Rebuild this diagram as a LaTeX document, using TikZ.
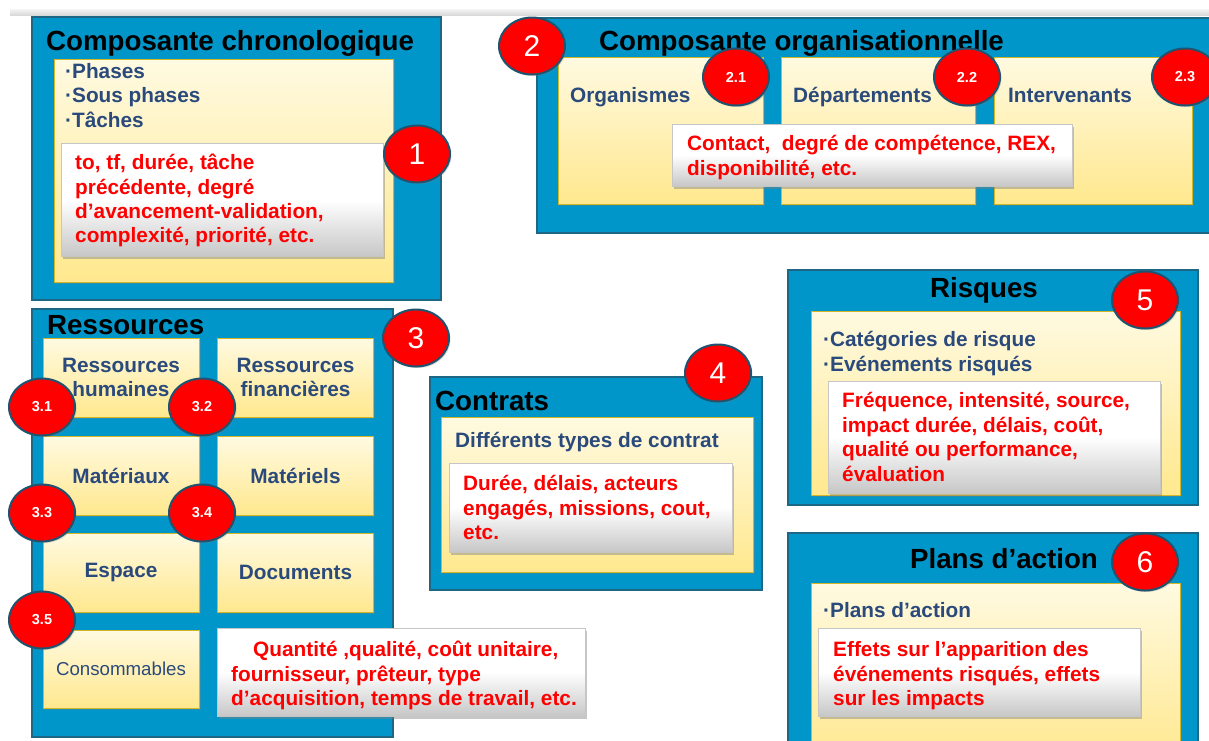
\documentclass[tikz,border=0pt]{standalone}
\usepackage{fontspec}
\setmainfont{Liberation Sans}
\usepackage{tikz}
\usetikzlibrary{shapes.geometric,shadows,positioning}

\definecolor{bluebox}{HTML}{0096C9}
\definecolor{blueline}{HTML}{1D6784}
\definecolor{celltop}{HTML}{FFFAE1}
\definecolor{cellbot}{HTML}{FFE88E}
\definecolor{cellline}{HTML}{D2B628}
\definecolor{navy}{HTML}{2B4A7C}
\definecolor{ringline}{HTML}{1E5470}

\begin{document}
\begin{tikzpicture}[x=1pt, y=-1pt,
  blk/.style={draw=blueline, line width=1.2pt, fill=bluebox, inner sep=0pt},
  cell/.style={draw=cellline, line width=.8pt, top color=celltop, bottom color=cellbot, inner sep=0pt,
    drop shadow={opacity=.3, shadow xshift=1.5pt, shadow yshift=-1.5pt}},
  note/.style={draw=gray!45, line width=.5pt, top color=white, bottom color=black!22, middle color=white, inner sep=0pt,
    drop shadow={opacity=.45, shadow xshift=2pt, shadow yshift=-2.5pt}},
  num/.style={ellipse, draw=ringline, line width=2pt, fill=red, text=white, minimum width=66, minimum height=57,
    inner sep=0pt, font=\fontsize{30}{30}\selectfont, drop shadow={opacity=.3, shadow xshift=1.5pt, shadow yshift=-1.5pt}},
  sub/.style={num, font=\fontsize{14.5}{14.5}\selectfont\bfseries},
  ttl/.style={inner sep=0pt, font=\fontsize{27.7}{30}\selectfont\bfseries},
  lbl/.style={inner sep=0pt, text=navy, align=left, font=\fontsize{20.8}{24.4}\selectfont\bfseries},
  rtxt/.style={inner sep=0pt, text=red, align=left, font=\fontsize{20.8}{24.4}\selectfont\bfseries}]
  \useasboundingbox (0,0) rectangle (1209,740);
  \shade[top color=gray!8, bottom color=gray!30] (10,9) rectangle (1209,15);

  % composante chronologique
  \node[blk, minimum width=409, minimum height=283] (chrono) at (236.5,158.5) {};
  \node[cell, minimum width=339, minimum height=223] (chronoin) at (223.5,170.5) {};
  \node[ttl, anchor=base] (chronottl) at (230,50) {Composante chronologique};
  \node[lbl, anchor=north west] (phases) at (65,63) {·Phases\\·Sous phases\\·Tâches};
  \node[note, minimum width=322, minimum height=113] (chrononote) at (222,199.5) {};
  \node[rtxt, anchor=north west] (chronotxt) at (75,154) {to, tf, durée, tâche\\précédente, degré\\d’avancement-validation,\\complexité, priorité, etc.};
  \node[num] (n1) at (417,154) {1};

  % composante organisationnelle
  \node[blk, minimum width=683, minimum height=215] (orga) at (878.5,125.5) {};
  \node[ttl, anchor=base] (orgattl) at (801.5,50) {Composante organisationnelle};
  \foreach \cx/\w/\lx/\name/\txt in {660.5/205/570/org/Organismes, 878/194/793/dep/Départements, 1093/198/1008/int/Intervenants}
    {
    \node[cell, minimum width=\w, minimum height=147] (\name) at (\cx,130.5) {};
    \node[lbl, anchor=base west] (\name lbl) at (\lx,102) {\txt};
    }
  \node[note, minimum width=400, minimum height=62] (organote) at (872,155) {};
  \node[rtxt, anchor=north west] (orgatxt) at (687,135.5) {Contact,~ degré de compétence, REX,\\disponibilité, etc.};
  \node[sub] (n21) at (736,77) {2.1};
  \node[sub] (n22) at (967,77) {2.2};
  \node[sub] (n23) at (1185,77) {2.3};
  \node[num] (n2) at (532,46) {2};

  % ressources
  \node[blk, minimum width=361, minimum height=428] (res) at (212.5,523) {};
  \node[ttl, anchor=base west] (resttl) at (47,334) {Ressources};
  \foreach \cx/\cy/\name/\txt in {121/377.5/hum/{Ressources\\humaines}, 295.5/377.5/fin/{Ressources\\financières},
      121/476/mtx/Matériaux, 295.5/476/mtl/Matériels, 121/572.5/esp/Espace, 295.5/572.5/doc/Documents}
    \node[cell, lbl, align=center, minimum width=156, minimum height=79] (\name) at (\cx,\cy) {\txt};
  \node[cell, lbl, align=center, minimum width=156, minimum height=78, font=\fontsize{18.7}{22}\selectfont] (cons) at (121,669) {Consommables};
  \node[note, minimum width=368, minimum height=88] (resnote) at (401,672) {};
  \node[rtxt, anchor=north west] (restxt) at (231,641) {\hspace*{22pt}Quantité ,qualité, coût unitaire,\\fournisseur, prêteur, type\\d’acquisition, temps de travail, etc.};
  \foreach \cx/\cy/\t in {42/407/3.1, 202/407/3.2, 42/513/3.3, 202/513/3.4, 42/620/3.5}
    \node[sub] (n\t) at (\cx,\cy) {\t};
  \node[num] (n3) at (416,338) {3};

  % contrats
  \node[blk, minimum width=332, minimum height=213] (ctr) at (596,483.5) {};
  \node[cell, minimum width=312, minimum height=155] (ctrin) at (597,494.5) {};
  \node[ttl, anchor=base west] (ctrttl) at (435,410) {Contrats};
  \node[lbl, anchor=base west] (ctrlbl) at (455,447) {Différents types de contrat};
  \node[note, minimum width=283, minimum height=89] (ctrnote) at (590.5,507.5) {};
  \node[rtxt, anchor=north west] (ctrtxt) at (463,475.5) {Durée, délais, acteurs\\engagés, missions, cout,\\etc.};
  \node[num] (n4) at (718,373) {4};

  % risques
  \node[blk, minimum width=410, minimum height=235] (rsk) at (993,387.5) {};
  \node[cell, minimum width=369, minimum height=184] (rskin) at (995.5,403) {};
  \node[ttl, anchor=base] (rskttl) at (984,297) {Risques};
  \node[lbl, anchor=north west] (rsklbl) at (823,331.5) {·Catégories de risque\\·Evénements risqués};
  \node[note, minimum width=332, minimum height=112] (rsknote) at (994,437) {};
  \node[rtxt, anchor=north west] (rsktxt) at (842,392.5) {Fréquence, intensité, source,\\impact durée, délais, coût,\\qualité ou performance,\\évaluation};
  \node[num] (n5) at (1145,300) {5};

  % plans d'action
  \node[blk, minimum width=410, minimum height=230] (pla) at (993,648) {};
  \node[cell, minimum width=369, minimum height=180] (plain) at (995.5,673) {};
  \node[ttl, anchor=base] (plattl) at (1004,568) {Plans d’action};
  \node[lbl, anchor=base west] (plalbl) at (823,617) {·Plans d’action};
  \node[note, minimum width=322, minimum height=88] (planote) at (979,672) {};
  \node[rtxt, anchor=north west] (platxt) at (833,641.5) {Effets sur l’apparition des\\événements risqués, effets\\sur les impacts};
  \node[num] (n6) at (1145,562) {6};
\end{tikzpicture}
\end{document}
